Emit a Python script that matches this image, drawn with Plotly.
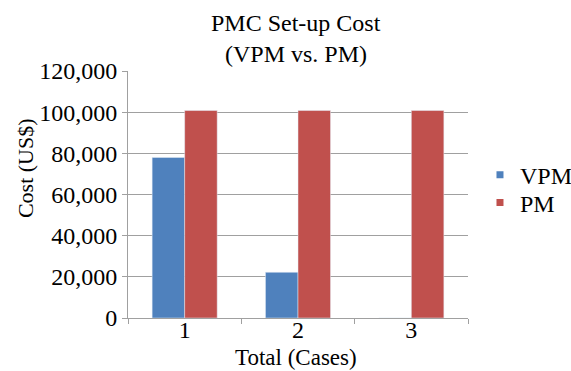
import plotly.graph_objects as go

# Set-up cost per case for each approach
cases = ["1", "2", "3"]
vpm_cost = [78000, 22200, 0]
pm_cost = [100800, 100800, 100800]

FONT = "Liberation Serif"
BLUE = "#4F81BD"
RED = "#C0504D"
GRID = "#A0A0A0"

def serif(size):
    return dict(family=FONT, size=size, color="black")

fig = go.Figure()
fig.add_trace(go.Bar(x=cases, y=vpm_cost, name="VPM", marker_color=BLUE, showlegend=False))
fig.add_trace(go.Bar(x=cases, y=pm_cost, name="PM", marker_color=RED, showlegend=False))

# Legend entries drawn with small square markers, one legend box each
for name, color, leg in [("VPM", BLUE, "legend"), ("PM", RED, "legend2")]:
    fig.add_trace(go.Scatter(
        x=[None], y=[None], mode="markers", name=name, legend=leg,
        marker=dict(symbol="square", size=7, color=color),
    ))

legend_common = dict(xref="container", yref="container",
                     xanchor="left", yanchor="middle", font=serif(24),
                     itemwidth=30, bgcolor="rgba(0,0,0,0)")

fig.update_layout(
    width=571, height=371,
    margin=dict(l=128, r=103, t=71, b=53, autoexpand=False),
    paper_bgcolor="white", plot_bgcolor="white",
    font=serif(24),
    barmode="group", bargap=0.426, bargroupgap=0,
    legend=dict(x=0.8406, y=0.528, **legend_common),
    legend2=dict(x=0.8406, y=0.453, **legend_common),
    annotations=[
        dict(text="PMC Set-up Cost", xref="paper", yref="paper",
             x=0.494, y=1.0, yshift=48, xanchor="center", yanchor="middle",
             showarrow=False, font=serif(24)),
        dict(text="(VPM vs. PM)", xref="paper", yref="paper",
             x=0.494, y=1.0, yshift=17, xanchor="center", yanchor="middle",
             showarrow=False, font=serif(24)),
        dict(text="Total (Cases)", xref="paper", yref="paper",
             x=0.494, y=0.0, yshift=-39, xanchor="center", yanchor="middle",
             showarrow=False, font=serif(23)),
        dict(text="Cost (US$)", xref="paper", yref="paper",
             x=-0.303, y=0.607, xanchor="center", yanchor="middle",
             textangle=-90, showarrow=False, font=serif(22)),
    ],
)

fig.update_xaxes(
    type="category", showgrid=False,
    showline=True, linecolor=GRID, linewidth=1,
    ticks="outside", tickson="boundaries", ticklen=5, tickcolor=GRID,
    tickfont=serif(24), ticklabelstandoff=-10,
)
fig.update_yaxes(
    range=[0, 120000], dtick=20000, tickformat=",d",
    showgrid=True, gridcolor=GRID, gridwidth=1,
    showline=True, linecolor=GRID, linewidth=1,
    ticks="outside", ticklen=5, tickcolor=GRID,
    tickfont=serif(24), zeroline=False,
)

fig.write_html("out.html")
